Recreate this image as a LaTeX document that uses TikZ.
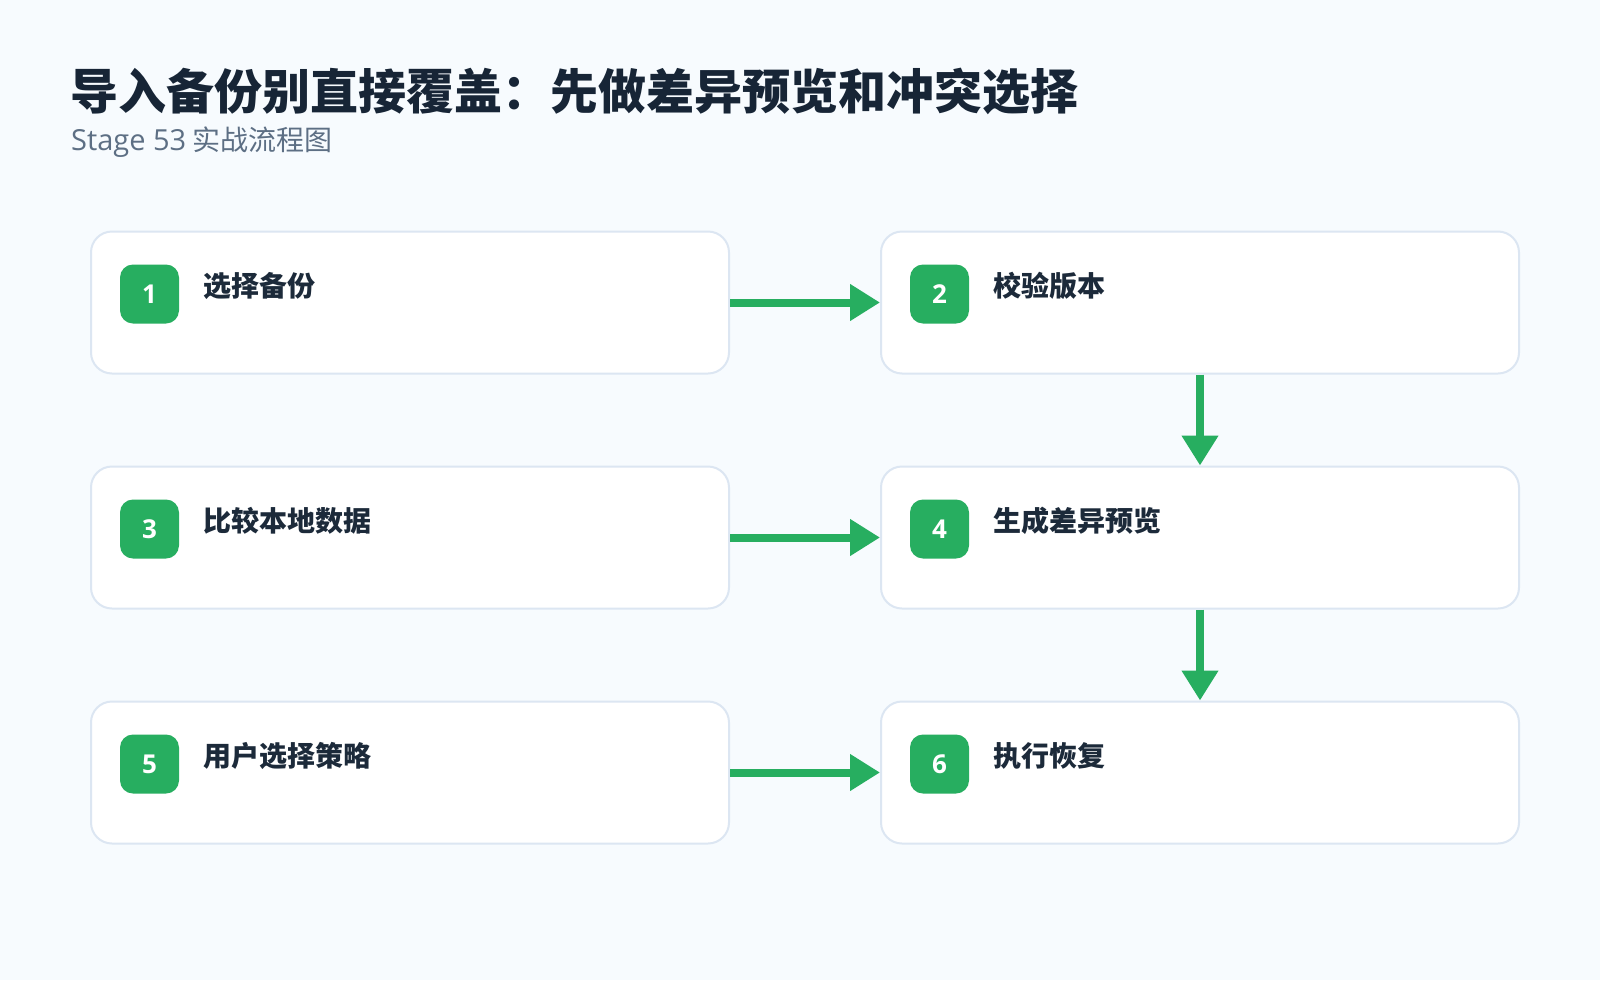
\documentclass[tikz,border=0pt]{standalone}
\usepackage{fontspec}
\setmainfont{Noto Sans CJK SC}
\newfontfamily\latinfont{Open Sans}
\usetikzlibrary{arrows.meta}
\definecolor{bg}{HTML}{F7FBFE}
\definecolor{edge}{HTML}{DCE6F2}
\definecolor{green}{HTML}{27AE60}
\definecolor{titlec}{HTML}{172536}
\definecolor{subc}{HTML}{5D6F84}
\definecolor{labelc}{HTML}{1C2A3A}
\tikzset{
  stepbox/.style={draw=edge, line width=2pt, fill=white, rounded corners=21pt,
    minimum width=638pt, minimum height=142pt, inner sep=0pt, outer sep=1pt},
  badge/.style={fill=green, rounded corners=13pt, minimum width=59pt, minimum height=59pt,
    inner sep=0pt, text=white, font=\latinfont\fontsize{26pt}{30pt}\selectfont\bfseries},
  steplabel/.style={anchor=west, inner sep=0pt, text=labelc, font=\fontsize{28pt}{32pt}\selectfont\bfseries},
  flow/.style={draw=green, line width=8pt, -{Triangle[length=30pt,width=35pt]}},
}
\begin{document}
\begin{tikzpicture}[x=1pt,y=-1pt]
\useasboundingbox[fill=bg] (0,0) rectangle (1600,980);
\node[anchor=base west, inner sep=0pt, text=titlec, font=\fontsize{48pt}{52pt}\selectfont\bfseries] (title) at (70,109) {导入备份别直接覆盖：先做差异预览和冲突选择};
\node[anchor=base west, inner sep=0pt, text=subc, font=\fontsize{28pt}{32pt}\selectfont] (subtitle) at (71,150) {{\latinfont\fontsize{29pt}{32pt}\selectfont Stage 53} 实战流程图};
\foreach \i/\x/\y/\t in {1/410/302.5/选择备份, 2/1200/302.5/校验版本, 3/410/537.5/比较本地数据, 4/1200/537.5/生成差异预览, 5/410/772.5/用户选择策略, 6/1200/772.5/执行恢复}{
  \node[stepbox] (b\i) at (\x,\y) {};
  \node[badge] (n\i) at (\x-260.5,\y-8.5) {\i};
  \node[steplabel] (l\i) at (\x-207,\y-17) {\t};
}
\draw[flow] (b1.east) -- (b2.west);
\draw[flow] (b3.east) -- (b4.west);
\draw[flow] (b5.east) -- (b6.west);
\draw[flow] (b2.south) -- (b4.north);
\draw[flow] (b4.south) -- (b6.north);
\end{tikzpicture}
\end{document}
